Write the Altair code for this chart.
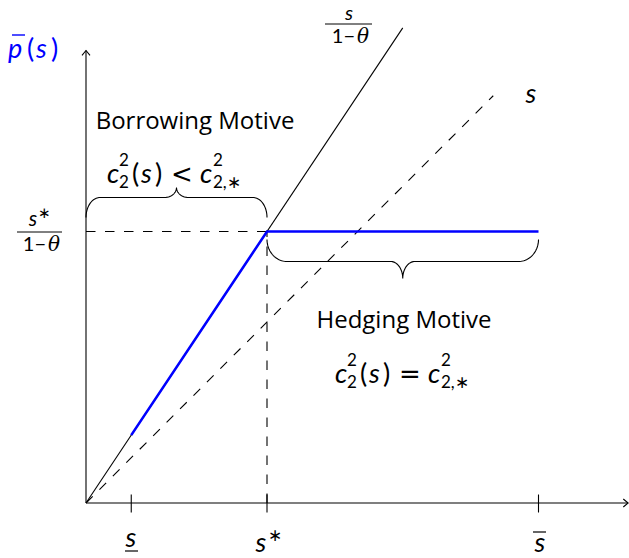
import altair as alt
import numpy as np
import pandas as pd

# ---- model values ---------------------------------------------------------
s_low, s_star, s_high = 1.0, 4.0, 10.0        # s_, s*, s-bar on the horizontal axis
theta = 1.0 / 3.0
slope = 1.0 / (1.0 - theta)                    # slope of s/(1-theta)
p_star = s_star * slope                        # s*/(1-theta)
steep_end = 7.0                                # where the s/(1-theta) ray stops
diag_end = 9.0                                 # where the 45-degree ray stops
x_axis_end, y_axis_end = 11.98, 10.0
tick_values = [s_low, s_star, s_high]

# ---- layout: drawing units -> pixels --------------------------------------
W, H = 629, 558
K = 45.25               # pixels per model unit
OX, OY = 86.0, 503.0    # pixel position of the origin


def ux(px):
    return (px - OX) / K


def uy(py):
    return (OY - py) / K


xs = alt.Scale(domain=[ux(0), ux(W)], nice=False, zero=False)
ys = alt.Scale(domain=[uy(H), uy(0)], nice=False, zero=False)
X = lambda f="x": alt.X(f"{f}:Q", scale=xs, axis=None)
Y = lambda f="y": alt.Y(f"{f}:Q", scale=ys, axis=None)

# ---- line geometry --------------------------------------------------------
solid_rows = []
for seg, pts in {
    "x_axis": [(0, 0), (x_axis_end, 0)],
    "y_axis": [(0, 0), (0, y_axis_end)],
    "steep": [(0, 0), (steep_end, steep_end * slope)],
}.items():
    for i, (a, b) in enumerate(pts):
        solid_rows.append({"seg": seg, "i": i, "x": a, "y": b})

dashed_rows = []
for seg, pts in {
    "diag": [(0, 0), (diag_end, diag_end)],
    "h": [(0, p_star), (s_star, p_star)],
    "v": [(s_star, 0), (s_star, p_star)],
}.items():
    for i, (a, b) in enumerate(pts):
        dashed_rows.append({"seg": seg, "i": i, "x": a, "y": b})

blue_pts = [(s_low, s_low * slope), (s_star, p_star), (s_high, p_star)]
blue_df = pd.DataFrame([{"i": i, "x": a, "y": b} for i, (a, b) in enumerate(blue_pts)])


def brace(name, x0, x1, yb, h1, h2, rx, rxm, n=24):
    """Curly brace between x0 and x1; h1/h2 signed heights (up > 0)."""
    t = np.linspace(0, np.pi / 2, n)
    xm = (x0 + x1) / 2
    yp = yb + h1
    parts = [
        (x0 + rx * (1 - np.cos(t)), yb + h1 * np.sin(t)),
        (xm - rxm + rxm * np.sin(t), yp + h2 * (1 - np.cos(t))),
        (xm + rxm - rxm * np.sin(t[::-1]), yp + h2 * (1 - np.cos(t[::-1]))),
        (x1 - rx * (1 - np.cos(t[::-1])), yb + h1 * np.sin(t[::-1])),
    ]
    px = np.concatenate([p[0] for p in parts])
    py = np.concatenate([p[1] for p in parts])
    return [{"seg": name, "i": i, "x": a, "y": b} for i, (a, b) in enumerate(zip(px, py))]


brace_rows = brace("borrow", 0.0, s_star, p_star + 14 / K, 20 / K, 10 / K, 14 / K, 12 / K)
brace_rows += brace("hedge", s_star, s_high, p_star - 8 / K, -22 / K, -17 / K, 20 / K, 12 / K)
solid_rows += brace_rows

solid_df = pd.DataFrame(solid_rows)
dashed_df = pd.DataFrame(dashed_rows)

tick_df = pd.DataFrame({"x": tick_values, "y": -9.5 / K, "y2": 8.5 / K})

# short horizontal bars: fraction bars, over/underlines
bar_rows = [
    (325, 372, 24, "black", 1.0),   # s / (1-theta)
    (17, 62, 232, "black", 1.0),    # s* / (1-theta)
    (12, 25, 35, "blue", 1.4),      # p-bar
    (125, 138, 551, "black", 1.2),  # s underline
    (533, 546, 532, "black", 1.2),  # s-bar
]
bars_df = pd.DataFrame(
    [{"x": ux(a), "x2": ux(b), "y": uy(c), "color": col, "w": w} for a, b, c, col, w in bar_rows]
)

# ---- text -----------------------------------------------------------------
texts = []


def put(px, py, text, size, kind="rm", align="left", color="black"):
    texts.append({"x": ux(px), "y": uy(py), "text": text, "size": size,
                  "kind": kind, "anchor": align, "color": color})


put(195, 129, "Borrowing Motive", 24, "tx", align="center")
put(404, 328, "Hedging Motive", 24, "tx", align="center")


def formula(left, base, rel):
    for dx, dy, t, sz, kind in [
        (0, 0, "c", 27, "it"), (12, -17, "2", 17, "rm"), (12, 5, "2", 17, "rm"),
        (25, 0, "(", 27, "rm"), (34, 0, "s", 27, "it"), (48, 0, ")", 27, "rm"),
        (64, 0, rel, 26, "op"), (93, 0, "c", 27, "it"),
        (106, -17, "2", 17, "rm"), (106, 5, "2,∗", 17, "rm"),
    ]:
        put(left + dx, base + dy, t, sz, kind)


formula(107, 183, "<")
formula(335, 383, "=")

# p-bar(s)
put(8, 58, "p", 27, "it", color="blue")
put(27, 58, "(", 27, color="blue")
put(36, 58, "s", 27, "it", color="blue")
put(51, 58, ")", 27, color="blue")

# ray labels
put(531, 103, "s", 27, "it", align="center")
put(349, 20, "s", 20, "it", align="center")
put(355, 43, "1−", 20, align="right")
put(357, 43, "θ", 20, "th")
put(33, 226, "s", 21, "it", align="center")
put(38, 218, "∗", 15)
put(46, 251, "1−", 20, align="right")
put(48, 251, "θ", 20, "th")

# tick labels
put(131, 547, "s", 27, "it", align="center")
put(261, 552, "s", 27, "it", align="center")
put(268, 541, "∗", 17)
put(540, 552, "s", 27, "it", align="center")

text_df = pd.DataFrame(texts)

# ---- layers ---------------------------------------------------------------
solid = alt.Chart(solid_df).mark_line(color="black", strokeWidth=1.1).encode(
    x=X(), y=Y(), detail="seg:N", order="i:Q")
dashed = alt.Chart(dashed_df).mark_line(color="black", strokeWidth=1.1,
                                         strokeDash=[9.5, 9.5]).encode(
    x=X(), y=Y(), detail="seg:N", order="i:Q")
blue = alt.Chart(blue_df).mark_line(color="#0000ff", strokeWidth=2.6).encode(
    x=X(), y=Y(), order="i:Q")
ticks = alt.Chart(tick_df).mark_rule(color="black", strokeWidth=1.1).encode(
    x=X(), y=Y(), y2="y2:Q")
bars = alt.Chart(bars_df).mark_rule().encode(
    x=X(), x2="x2:Q", y=Y(),
    color=alt.Color("color:N", scale=None),
    strokeWidth=alt.StrokeWidth("w:Q", scale=None))

arrow_df = pd.DataFrame({"x": [x_axis_end, 0.0], "y": [0.0, y_axis_end], "dir": ["r", "u"]})
arrow_r = alt.Chart(arrow_df).transform_filter("datum.dir == 'r'").mark_point(
    shape="M-1.2,-1L0,0L-1.2,1", size=64, filled=False, color="black", strokeWidth=1.1,
    opacity=1).encode(x=X(), y=Y())
arrow_u = alt.Chart(arrow_df).transform_filter("datum.dir == 'u'").mark_point(
    shape="M-1,1.2L0,0L1,1.2", size=64, filled=False, color="black", strokeWidth=1.1,
    opacity=1).encode(x=X(), y=Y())

fonts = {
    "tx": ("Open Sans", "normal"),
    "rm": ("Lato", "normal"),
    "it": ("Lato", "italic"),
    "op": ("DejaVu Sans", "normal"),
    "th": ("DejaVu Serif", "italic"),
}
text_layers = []
for kind, (font, style) in fonts.items():
    for align in ["left", "center", "right"]:
        sub = text_df[(text_df["kind"] == kind) & (text_df["anchor"] == align)]
        if sub.empty:
            continue
        text_layers.append(
            alt.Chart(sub).mark_text(font=font, fontStyle=style, align=align,
                                     baseline="alphabetic").encode(
                x=X(), y=Y(), text="text:N",
                size=alt.Size("size:Q", scale=None),
                color=alt.Color("color:N", scale=None)))

chart = alt.layer(solid, dashed, ticks, arrow_r, arrow_u, blue, bars, *text_layers).properties(
    width=W, height=H, padding=0, autosize="none", background="white"
).configure_view(stroke=None)

chart.save("out.html", embed_options={"renderer": "svg", "actions": False})
